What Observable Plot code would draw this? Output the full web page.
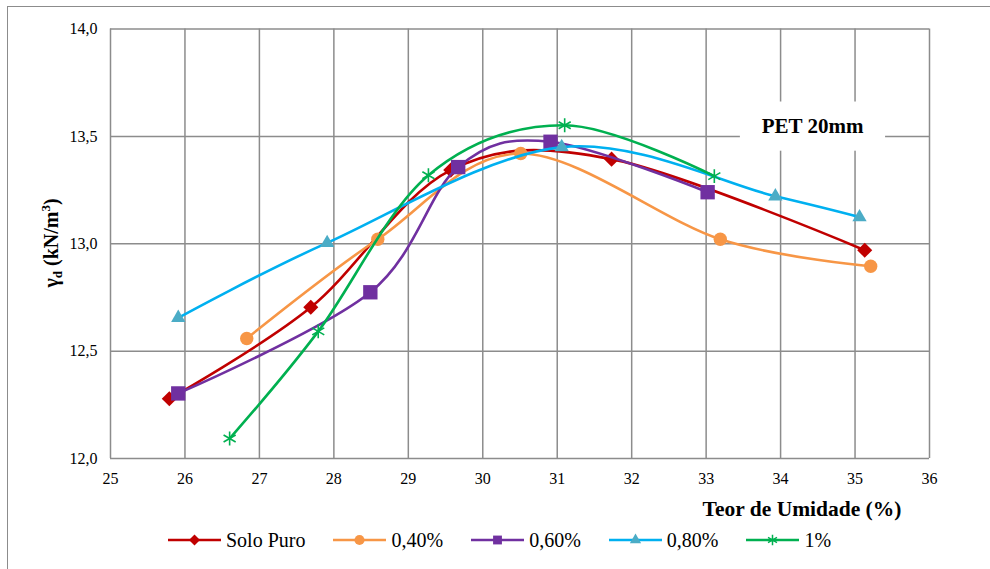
<!DOCTYPE html>
<html><head><meta charset="utf-8">
<script src="https://cdn.jsdelivr.net/npm/d3@7"></script>
<script src="https://cdn.jsdelivr.net/npm/@observablehq/plot@0.6"></script>
<style>
html,body{margin:0;padding:0;background:#fff;overflow:hidden;width:990px;height:569px;}
#frame{position:absolute;left:7px;top:6px;width:1000px;height:600px;border:1.5px solid #8c8c8c;box-sizing:border-box;}
#chart{position:absolute;left:0;top:0;}
#legend{position:absolute;left:168px;top:528px;display:flex;align-items:center;font-family:'Liberation Serif','Times New Roman',Times,'DejaVu Serif',serif;font-size:20px;line-height:24px;color:#000;white-space:nowrap;}
.item{display:flex;align-items:center;margin-right:28px;}
.item svg{margin-right:5px;display:block;}
svg text{font-family:'Liberation Serif','Times New Roman',Times,'DejaVu Serif',serif;}
</style></head><body>
<div id="frame"></div>
<div id="chart"></div>
<div id="legend"></div>
<script>
// ---- data ----
const xTicks = [25, 26, 27, 28, 29, 30, 31, 32, 33, 34, 35, 36];
const yTicks = [12.0, 12.5, 13.0, 13.5, 14.0];
const seriesNames = ["Solo Puro", "0,40%", "0,60%", "0,80%", "1%"];

const soloPuroX = [25.79, 27.69, 29.57, 31.73, 35.13];
const soloPuroY = [12.278, 12.704, 13.343, 13.394, 12.970];

const pet040X = [26.83, 28.59, 30.51, 33.19, 35.21];
const pet040Y = [12.559, 13.021, 13.420, 13.021, 12.895];

const pet060X = [25.91, 28.49, 29.67, 30.91, 33.02];
const pet060Y = [12.303, 12.774, 13.357, 13.475, 13.240];

const pet080X = [25.91, 27.91, 31.06, 33.93, 35.06];
const pet080Y = [12.655, 13.004, 13.450, 13.221, 13.124];

const pet100X = [26.60, 27.79, 29.27, 31.10, 33.11];
const pet100Y = [12.093, 12.592, 13.319, 13.552, 13.315];

const annotationText = ["PET 20mm"];

// ---- styles ----
const FONT = "'Liberation Serif','Times New Roman',Times,'DejaVu Serif',serif";
const lineColors = ["#C00000", "#F79646", "#7030A0", "#00B0F0", "#00B050"];
const markerColors = ["#C00000", "#F79646", "#7030A0", "#4BACC6", "#00B050"];
const symbols = ["diamond2", "circle", "square", "triangle", "asterisk"];
const markerR = [6.8, 6.7, 8.1, 5.3, 6.6];
const legendSizes = [78, 80, 78, 55, 75];
const gridColor = "#8c8c8c";

const xs = [soloPuroX, pet040X, pet060X, pet080X, pet100X];
const ys = [soloPuroY, pet040Y, pet060Y, pet080Y, pet100Y];
const series = seriesNames.map((name, i) => ({
  name,
  rows: xs[i].map((x, j) => ({series: name, x, y: ys[i][j]})),
  line: lineColors[i], marker: markerColors[i], symbol: symbols[i], r: markerR[i]
}));

const annot = [{x1: 33.46, x2: 35.41, y1: 13.431, y2: 13.66, tx: 34.43, ty: 13.548, label: annotationText[0]}];

const fmtY = d => d.toFixed(1).replace(".", ",");

const marks = [
  Plot.gridX(xTicks, {stroke: gridColor, strokeOpacity: 1, strokeWidth: 1.5}),
  Plot.gridY(yTicks, {stroke: gridColor, strokeOpacity: 1, strokeWidth: 1.5}),
  Plot.rect(annot, {x1: "x1", x2: "x2", y1: "y1", y2: "y2", fill: "white"}),
  Plot.text(annot, {x: "tx", y: "ty", text: "label", fontSize: 21, fontWeight: "bold", fill: "#000", fontFamily: FONT}),
  Plot.axisX(xTicks, {tickSize: 0, tickPadding: 14, fontSize: 16, label: null, tickFormat: d => String(d), fontFamily: FONT}),
  Plot.axisY(yTicks, {tickSize: 0, tickPadding: 13, fontSize: 16, label: null, tickFormat: fmtY, fontFamily: FONT})
];
series.forEach(s => {
  marks.push(Plot.line(s.rows, {x: "x", y: "y", stroke: s.line, strokeWidth: 2.6, curve: "cardinal", tension: 0}));
  if (s.symbol === "asterisk") {
    marks.push(Plot.dot(s.rows, {x: "x", y: "y", symbol: s.symbol, r: s.r, fill: "none", stroke: s.marker, strokeWidth: 1.6}));
  } else {
    marks.push(Plot.dot(s.rows, {x: "x", y: "y", symbol: s.symbol, r: s.r, fill: s.marker, stroke: "none"}));
  }
});

const chart = Plot.plot({
  width: 990, height: 522,
  marginLeft: 110, marginRight: 61, marginTop: 28.5, marginBottom: 64,
  x: {domain: [25, 36]},
  y: {domain: [12, 14]},
  style: {fontFamily: FONT, fontSize: "16px", color: "#000", background: "transparent", overflow: "visible"},
  marks
});
document.getElementById("chart").appendChild(chart);

// axis titles
const svg = d3.select(chart);
svg.append("text")
  .attr("x", 802).attr("y", 516)
  .attr("text-anchor", "middle")
  .style("font-family", FONT).style("font-size", "21.5px").style("font-weight", "bold")
  .attr("fill", "#000")
  .text("Teor de Umidade (%)");
const yt = svg.append("text")
  .attr("transform", "translate(58,243) rotate(-90)")
  .attr("text-anchor", "middle")
  .style("font-family", FONT).style("font-size", "20px").style("font-weight", "bold")
  .attr("fill", "#000");
yt.append("tspan").text("γ");
yt.append("tspan").attr("font-size", "13px").attr("dy", "4").text("d");
yt.append("tspan").attr("dy", "-4").text(" (kN/m");
yt.append("tspan").attr("font-size", "13px").attr("dy", "-8").text("3");
yt.append("tspan").attr("dy", "8").text(")");

// legend
const legend = d3.select("#legend");
series.forEach((s, i) => {
  const item = legend.append("div").attr("class", "item");
  const sw = item.append("svg").attr("width", 53).attr("height", 20);
  sw.append("line").attr("x1", 0).attr("x2", 53).attr("y1", 10).attr("y2", 10)
    .attr("stroke", s.line).attr("stroke-width", 2.6);
  const symMap = {diamond2: d3.symbolDiamond2, circle: d3.symbolCircle, square: d3.symbolSquare, triangle: d3.symbolTriangle, asterisk: d3.symbolAsterisk};
  const p = sw.append("path").attr("transform", "translate(26.5,10)")
    .attr("d", d3.symbol(symMap[s.symbol], legendSizes[i])());
  if (s.symbol === "asterisk") p.attr("fill", "none").attr("stroke", s.marker).attr("stroke-width", 1.5);
  else p.attr("fill", s.marker);
  item.append("span").text(s.name);
});
</script>
</body></html>
